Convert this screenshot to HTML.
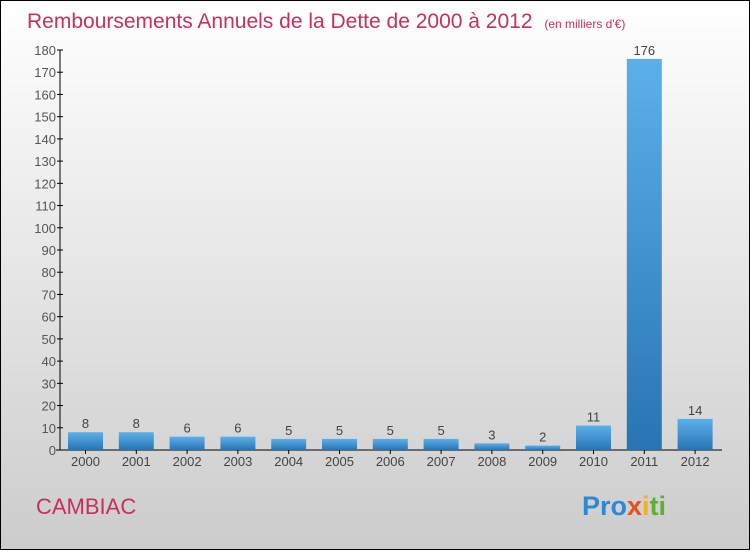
<!DOCTYPE html>
<html><head><meta charset="utf-8"><style>
body{margin:0;width:750px;height:550px;overflow:hidden;font-family:"Liberation Sans",sans-serif}
</style></head><body>
<svg width="750" height="550" xmlns="http://www.w3.org/2000/svg">
<defs>
<linearGradient id="bg" x1="0" y1="0" x2="0" y2="1"><stop offset="0" stop-color="#ffffff"/><stop offset="1" stop-color="#cccccc"/></linearGradient>
<linearGradient id="bar" x1="0" y1="0" x2="0" y2="1"><stop offset="0" stop-color="#5cb0ea"/><stop offset="1" stop-color="#2874b4"/></linearGradient>
</defs>
<rect x="0.5" y="0.5" width="749" height="549" fill="url(#bg)" stroke="#000"/>
<text x="27" y="28" font-size="21" fill="#c8305c">Remboursements Annuels de la Dette de 2000 à 2012 <tspan font-size="12" dx="6">(en milliers d'€)</tspan></text>
<g id="axes"></g>
<g id="bars"></g>
<text x="36" y="514" font-size="22" fill="#c8305c">CAMBIAC</text>
<text x="582" y="515" font-size="27" font-weight="bold"><tspan fill="#2a8ad8">Pro</tspan><tspan fill="#e8501a">x</tspan><tspan fill="#f0b020">i</tspan><tspan fill="#60b030">ti</tspan></text>
</svg>
<script>
const categories=["2000","2001","2002","2003","2004","2005","2006","2007","2008","2009","2010","2011","2012"];
const values=[8,8,6,6,5,5,5,5,3,2,11,176,14];
const yTicks=[0,10,20,30,40,50,60,70,80,90,100,110,120,130,140,150,160,170,180];
const NS="http://www.w3.org/2000/svg";
const y0=450,yTop=50,yMax=180,xAxis=60,firstC=85.5,step=50.8,bw=35;
const y=v=>y0-(v/yMax)*(y0-yTop);
const x=i=>firstC+i*step;
function mk(t,a,p){const e=document.createElementNS(NS,t);for(const k in a)e.setAttribute(k,a[k]);p.appendChild(e);return e;}
const ax=document.getElementById('axes'),bs=document.getElementById('bars');
let l=mk('line',{x1:xAxis,y1:yTop,x2:xAxis,y2:y0,stroke:'#000'},ax);


l=mk('line',{x1:xAxis-4,y1:y0,x2:722,y2:y0,stroke:'#000'},ax);


yTicks.forEach(v=>{
 const t=mk('line',{x1:xAxis-3,y1:y(v),x2:xAxis+3,y2:y(v),stroke:'#000'},ax);
 
 
 const tx=mk('text',{x:xAxis-4,y:y(v)+5,'font-size':13,fill:'#555','text-anchor':'end'},ax);
 tx.textContent=v;
 
 
});
categories.forEach((c,i)=>{
 const r=mk('rect',{x:x(i)-bw/2,y:y(values[i]),width:bw,height:y0-y(values[i]),fill:'url(#bar)'},bs);
 
 
 const t=mk('line',{x1:x(i),y1:y0,x2:x(i),y2:y0+4,stroke:'#000'},ax);
 
 
 const lb=mk('text',{x:x(i),y:y0+16,'font-size':13,fill:'#444','text-anchor':'middle'},ax);
 lb.textContent=c;
 
 
 const vl=mk('text',{x:x(i),y:y(values[i])-4,'font-size':13,fill:'#444','text-anchor':'middle'},bs);
 vl.textContent=values[i];
 
 
});
</script>
</body></html>
